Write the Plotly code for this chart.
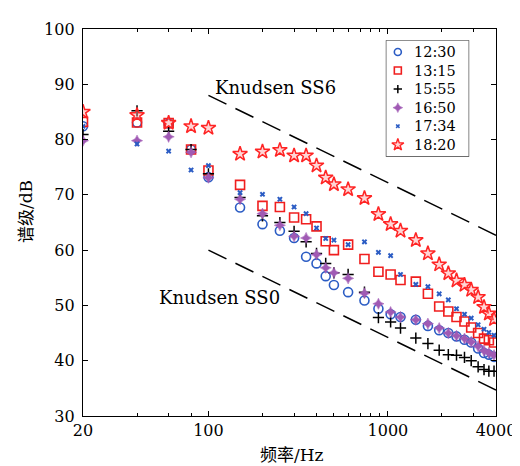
import plotly.graph_objects as go

# ---- data ----
freq = [20, 40, 60, 80, 100, 150, 200, 250, 300, 350, 400, 450, 500, 600, 740, 885,
        1035, 1175, 1430, 1670, 1930, 2170, 2410, 2670, 2910, 3180, 3430, 3650, 3900]

s1230 = [82.4, 83.1, 82.9, 78.2, 73.2, 67.7, 64.7, 63.5, 62.2, 58.8, 57.6, 55.3, 53.7, 52.4, 50.9, 49.4,
         48.4, 47.9, 47.4, 46.3, 45.5, 45.0, 44.4, 43.8, 43.3, 42.2, 41.4, 41.1, 40.7]
s1315 = [83.2, 83.1, 83.0, 78.2, 74.4, 71.8, 68.0, 67.8, 65.9, 65.6, 64.3, 61.6, 60.0, 61.0, 58.4, 56.1,
         55.6, 54.6, 54.3, 52.1, 49.8, 48.9, 47.9, 47.1, 46.0, 45.0, 44.0, 43.7, 43.3]
s1555 = [80.9, 85.2, 81.5, 78.2, 73.8, 69.5, 66.2, 65.0, 63.4, 61.5, 59.4, 57.6, 55.9, 55.6, 52.4, 47.8,
         47.0, 45.9, 44.1, 43.1, 41.9, 41.1, 41.0, 40.6, 40.0, 38.9, 38.4, 38.1, 38.1]
s1650 = [79.8, 79.8, 80.5, 77.7, 73.1, 69.2, 66.6, 64.5, 62.5, 62.2, 59.2, 56.8, 55.9, 54.9, 52.2, 50.3,
         48.8, 47.9, 47.4, 46.7, 45.9, 45.0, 44.5, 44.0, 43.4, 42.6, 41.8, 41.4, 41.0]
s1734 = [82.4, 79.2, 77.9, 74.5, 75.3, 70.4, 70.1, 69.2, 67.8, 66.6, 64.0, 62.1, 61.8, 61.0, 61.5, 59.6,
         59.0, 55.6, 53.8, 53.4, 52.1, 51.0, 49.4, 48.4, 47.7, 46.5, 45.7, 45.1, 44.6]
s1820 = [85.0, 84.4, 83.0, 82.4, 82.1, 77.4, 77.8, 78.1, 77.1, 77.1, 75.3, 73.1, 71.9, 71.0, 69.4, 66.5,
         64.7, 63.5, 61.8, 59.4, 57.4, 55.8, 54.5, 53.7, 52.8, 51.5, 49.7, 48.5, 47.5]

series_names = ["12:30", "13:15", "15:55", "16:50", "17:34", "18:20"]

knudsen_f = [100, 4000]
knudsen_ss6 = [88.0, 62.7]
knudsen_ss0 = [60.0, 34.7]

x_major = [20, 100, 1000, 4000]
x_major_text = ["20", "100", "1000", "4000"]
x_minor = [40, 60, 80, 200, 300, 400, 500, 600, 700, 800, 900, 2000, 3000]
y_ticks = [30, 40, 50, 60, 70, 80, 90, 100]

FONT = "DejaVu Serif, Noto Sans CJK SC, serif"
BLUE = "#2b5cc4"
RED = "#f01e1e"
PURPLE = "#a05ab4"

markers = [
    dict(symbol="circle-open", size=9, color=BLUE, line=dict(width=1.6, color=BLUE)),
    dict(symbol="square-open", size=9, color=RED, line=dict(width=1.6, color=RED)),
    dict(symbol="cross-thin", size=8, color="black", line=dict(width=1.5, color="black")),
    dict(symbol="star-diamond", size=8, color=PURPLE, line=dict(width=0.5, color=PURPLE)),
    dict(symbol="x", size=5, color=BLUE, line=dict(width=0)),
    dict(symbol="star", size=11, color="rgba(255,150,150,0.4)", line=dict(width=1.5, color="#ff2424")),
]
legend_markers = [
    dict(symbol="circle-open", size=7, color=BLUE, line=dict(width=1.6, color=BLUE)),
    dict(symbol="square-open", size=7, color=RED, line=dict(width=1.6, color=RED)),
    dict(symbol="cross-thin", size=6, color="black", line=dict(width=1.5, color="black")),
    dict(symbol="star-diamond", size=7, color=PURPLE, line=dict(width=0.5, color=PURPLE)),
    dict(symbol="x", size=4, color=BLUE, line=dict(width=0)),
    dict(symbol="star", size=9, color="rgba(255,150,150,0.4)", line=dict(width=1.4, color="#ff2424")),
]
series_values = [s1230, s1315, s1555, s1650, s1734, s1820]

W, H = 520, 466
L, R, T, B = 75, 23, 12, 58
pw, ph = W - L - R, H - T - B

def px(x):
    return (x - L) / pw

def py(y):
    return 1 - (y - T) / ph

fig = go.Figure()

for ys in (knudsen_ss6, knudsen_ss0):
    fig.add_trace(go.Scatter(x=knudsen_f, y=ys, mode="lines", showlegend=False,
                             line=dict(color="black", width=1.5, dash="20px,10px"),
                             hoverinfo="skip"))

for name, ys, mk in zip(series_names, series_values, markers):
    fig.add_trace(go.Scatter(x=freq, y=ys, mode="markers", name=name, marker=mk, showlegend=False))

# ---- legend drawn in its own small axis box ----
LG_L, LG_R, LG_T, LG_B = 385, 469, 24, 142
ROW0, ROW_STEP = 35.5, 19.0
row_px = [ROW0 + ROW_STEP * i for i in range(len(series_names))]
row_pos = [(LG_B - r) / (LG_B - LG_T) for r in row_px]
mark_x = (396.7 - LG_L) / (LG_R - LG_L)
text_x = (412.5 - LG_L) / (LG_R - LG_L)

annotations = []
for name, mk, yy in zip(series_names, legend_markers, row_pos):
    fig.add_trace(go.Scatter(x=[mark_x], y=[yy], mode="markers", marker=mk, showlegend=False,
                             xaxis="x2", yaxis="y2", hoverinfo="skip"))
    annotations.append(dict(text=name, xref="x2", yref="y2", x=text_x, y=yy, xanchor="left",
                            yanchor="middle", showarrow=False, borderpad=0,
                            font=dict(family=FONT, size=14.5, color="black")))

annotations += [
    dict(text="Knudsen SS6", xref="paper", yref="paper", x=px(209), y=py(71.5),
         xanchor="left", yanchor="middle", showarrow=False, borderpad=0,
         font=dict(family=FONT, size=18)),
    dict(text="Knudsen SS0", xref="paper", yref="paper", x=px(152), y=py(286.5),
         xanchor="left", yanchor="middle", showarrow=False, borderpad=0,
         font=dict(family=FONT, size=18)),
    dict(text="谱级/dB", xref="paper", yref="paper", x=px(16), y=py(199), textangle=-90,
         xanchor="center", yanchor="middle", showarrow=False, font=dict(family=FONT, size=17)),
    dict(text="频率/Hz", xref="paper", yref="paper", x=px(289), y=py(448),
         xanchor="center", yanchor="middle", showarrow=False, font=dict(family=FONT, size=17)),
]

fig.update_layout(
    width=W, height=H,
    margin=dict(l=L, r=R, t=T, b=B),
    plot_bgcolor="white", paper_bgcolor="white",
    font=dict(family=FONT, size=16, color="black"),
    showlegend=False,
    xaxis=dict(type="log", range=[1.30103, 3.60206], tickmode="array",
               tickvals=x_major, ticktext=x_major_text,
               ticks="inside", ticklen=5, tickwidth=1.2, tickcolor="black",
               minor=dict(tickvals=x_minor, ticks="inside", ticklen=3, tickwidth=1.2, tickcolor="black"),
               showline=True, linecolor="black", linewidth=1.3, mirror="ticks",
               showgrid=False, zeroline=False,
               tickfont=dict(family=FONT, size=16)),
    yaxis=dict(range=[30, 100], tickmode="array", tickvals=y_ticks,
               ticks="inside", ticklen=5, tickwidth=1.2, tickcolor="black",
               showline=True, linecolor="black", linewidth=1.3, mirror="ticks",
               showgrid=False, zeroline=False, ticklabelstandoff=4,
               tickfont=dict(family=FONT, size=16)),
    xaxis2=dict(domain=[px(LG_L), px(LG_R)], range=[0, 1], anchor="y2",
                visible=False, fixedrange=True),
    yaxis2=dict(domain=[py(LG_B), py(LG_T)], range=[0, 1], anchor="x2",
                visible=False, fixedrange=True),
    shapes=[dict(type="rect", xref="paper", yref="paper",
                 x0=px(LG_L), x1=px(LG_R), y0=py(LG_B), y1=py(LG_T),
                 line=dict(color="#333333", width=1.2), fillcolor="white", layer="below")],
    annotations=annotations,
)

fig.write_html("out.html")
